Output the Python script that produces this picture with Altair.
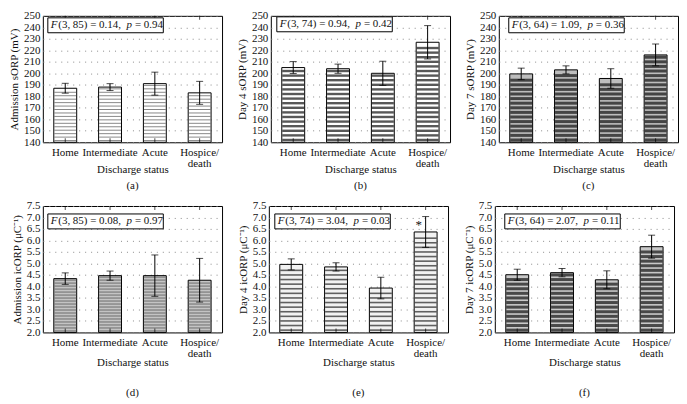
import altair as alt
import pandas as pd

# ---------------- data ----------------
categories = ["Home", "Intermediate", "Acute", "Hospice/death"]

adm_sorp_mean = [187, 188, 191, 183]
adm_sorp_err = [4.3, 3.0, 10.0, 10.0]
d4_sorp_mean = [205, 204, 200, 227]
d4_sorp_err = [5.2, 4.0, 10.5, 14.5]
d7_sorp_mean = [199.5, 203, 195.5, 216]
d7_sorp_err = [5.0, 3.5, 8.5, 9.5]

adm_icorp_mean = [4.34, 4.47, 4.47, 4.27]
adm_icorp_err = [0.25, 0.20, 0.90, 0.95]
d4_icorp_mean = [4.96, 4.85, 3.93, 6.37]
d4_icorp_err = [0.24, 0.18, 0.47, 0.67]
d7_icorp_mean = [4.51, 4.60, 4.29, 5.73]
d7_icorp_err = [0.24, 0.18, 0.39, 0.50]

f_df1 = [3, 3, 3, 3, 3, 3]
f_df2 = [85, 74, 64, 85, 74, 64]
f_value = [0.14, 0.94, 1.09, 0.08, 3.04, 2.07]
p_value = [0.94, 0.42, 0.36, 0.97, 0.03, 0.11]
significance = [
    ["", "", "", ""],
    ["", "", "", ""],
    ["", "", "", ""],
    ["", "", "", ""],
    ["", "", "", "*"],
    ["", "", "", ""],
]

y_titles = [
    "Admission sORP (mV)",
    "Day 4 sORP (mV)",
    "Day 7 sORP (mV)",
    "Admission icORP (\u03bcC\u207b\u00b9)",
    "Day 4 icORP (\u03bcC\u207b\u00b9)",
    "Day 7 icORP (\u03bcC\u207b\u00b9)",
]
captions = ["(a)", "(b)", "(c)", "(d)", "(e)", "(f)"]
x_title = "Discharge status"

sorp_ticks = [140, 150, 160, 170, 180, 190, 200, 210, 220, 230, 240, 250]
icorp_ticks = [2.0, 2.5, 3.0, 3.5, 4.0, 4.5, 5.0, 5.5, 6.0, 6.5, 7.0, 7.5]

# ---------------- styles ----------------
FONT = "Liberation Serif"
W, H = 180, 127
BAR = 23

styles = [
    dict(bg="#ffffff", line="#555555", thick=1.0, step=3.0),
    dict(bg="#ffffff", line="#111111", thick=2.4, step=4.0),
    dict(bg="#bdbdbd", line="#111111", thick=3.0, step=4.0),
    dict(bg="#c4c4c4", line="#707070", thick=1.5, step=0.13),
    dict(bg="#f2f2f2", line="#222222", thick=1.6, step=0.2),
    dict(bg="#c8c8c8", line="#111111", thick=3.0, step=0.2),
]
box_x = [5, 6, 10, 5, 6, 10]
box_y = [2, 1, 2, 8, 8, 8]
title_y = [21, 21, 21, 24, 24, 24]
caption_offset = [6, 6, 6, 20, 20, 20]


def panel(i, means, errs, ticks, fmt):
    st = styles[i]
    lo_d, hi_d = ticks[0], ticks[-1]
    df = pd.DataFrame({"cat": categories, "mean": means, "err": errs, "sig": significance[i]})
    base = alt.Chart(df)

    xscale = alt.Scale(type="band", paddingInner=0.5, paddingOuter=0.25)
    xaxis = alt.Axis(
        title=x_title,
        labelAngle=0,
        labelOverlap=False,
        ticks=False,
        domain=False,
        labelPadding=4,
        labelLineHeight=11,
        labelExpr="datum.label == 'Hospice/death' ? ['Hospice/', 'death'] : datum.label",
        titleY=title_y[i],
        titleBaseline="top",
    )
    yscale = alt.Scale(domain=[lo_d, hi_d], nice=False, zero=False)
    yaxis = alt.Axis(
        title=y_titles[i],
        values=ticks,
        tickCount=len(ticks),
        format=fmt,
        ticks=False,
        domain=False,
        grid=True,
        gridDash=[1, 5],
        gridColor="#8a8a8a",
        gridWidth=1,
        labelPadding=3,
        labelOverlap=False,
        labelFlush=False,
        titlePadding=4,
    )

    def xs():
        return alt.X("cat:N", sort=categories, scale=xscale, axis=xaxis)

    def ys(field):
        return alt.Y(field, scale=yscale, axis=yaxis)

    bars = base.mark_bar(size=BAR, fill=st["bg"], stroke="black", strokeWidth=1).encode(
        x=xs(), y=ys("mean:Q"), y2=alt.datum(lo_d)
    )
    step = st["step"]
    stripes = (
        base.transform_calculate(
            lv=f"sequence({lo_d + step / 2}, datum.mean - {step * 0.45}, {step})"
        )
        .transform_flatten(["lv"])
        .mark_tick(orient="horizontal", size=BAR - 1, thickness=st["thick"], color=st["line"])
        .encode(x=xs(), y=ys("lv:Q"))
    )
    eb = base.transform_calculate(lo="datum.mean - datum.err", hi="datum.mean + datum.err")
    rule = eb.mark_rule(color="black", strokeWidth=1).encode(x=xs(), y=ys("lo:Q"), y2="hi:Q")
    cap_lo = eb.mark_tick(orient="horizontal", size=7, thickness=1, color="black").encode(
        x=xs(), y=ys("lo:Q")
    )
    cap_hi = eb.mark_tick(orient="horizontal", size=7, thickness=1, color="black").encode(
        x=xs(), y=ys("hi:Q")
    )
    star = eb.mark_text(font=FONT, fontSize=13, dx=-7, dy=8, fill="#111111").encode(
        x=xs(), y=ys("hi:Q"), text="sig:N", color=alt.value("#111111")
    )
    top_ticks = base.mark_tick(orient="vertical", size=4, thickness=1, color="black").encode(
        x=xs(), y=alt.value(2)
    )
    bot_ticks = base.mark_tick(orient="vertical", size=4, thickness=1, color="black").encode(
        x=xs(), y=alt.value(H - 2)
    )

    bx, by = box_x[i], box_y[i]
    ann = alt.Chart(pd.DataFrame({"k": [0]}))
    box = ann.mark_rect(fill="white", stroke="black", strokeWidth=1).encode(
        x=alt.value(bx), x2=alt.value(bx + 116), y=alt.value(by), y2=alt.value(by + 15)
    )
    ty = by + 7.5
    part2 = f"({f_df1[i]}, {f_df2[i]}) = {f_value[i]:.2f},"
    part4 = f"= {p_value[i]:.2f}"
    tkw = dict(font=FONT, fontSize=11, align="left", baseline="middle", color="#111")
    t1 = ann.mark_text(text="F", fontStyle="italic", **tkw).encode(x=alt.value(bx + 3), y=alt.value(ty))
    t2 = ann.mark_text(text=part2, **tkw).encode(x=alt.value(bx + 10.5), y=alt.value(ty))
    t3 = ann.mark_text(text="p", fontStyle="italic", **tkw).encode(x=alt.value(bx + 79), y=alt.value(ty))
    t4 = ann.mark_text(text=part4, **tkw).encode(x=alt.value(bx + 87.5), y=alt.value(ty))

    return alt.layer(
        bars, stripes, rule, cap_lo, cap_hi, star, top_ticks, bot_ticks, box, t1, t2, t3, t4
    ).properties(
        width=W,
        height=H,
        title=alt.TitleParams(captions[i], orient="bottom", offset=caption_offset[i]),
    )


pa = panel(0, adm_sorp_mean, adm_sorp_err, sorp_ticks, "d")
pb = panel(1, d4_sorp_mean, d4_sorp_err, sorp_ticks, "d")
pc = panel(2, d7_sorp_mean, d7_sorp_err, sorp_ticks, "d")
pd_ = panel(3, adm_icorp_mean, adm_icorp_err, icorp_ticks, ".1f")
pe = panel(4, d4_icorp_mean, d4_icorp_err, icorp_ticks, ".1f")
pf = panel(5, d7_icorp_mean, d7_icorp_err, icorp_ticks, ".1f")

chart = (
    alt.vconcat(
        alt.hconcat(pa, pb, pc, spacing=13),
        alt.hconcat(pd_, pe, pf, spacing=13),
        spacing=7,
    )
    .properties(padding={"left": 0, "top": 0, "right": 0, "bottom": 0}, background="white")
    .configure_view(stroke="black", strokeWidth=1)
    .configure_axis(
        labelFont=FONT,
        titleFont=FONT,
        labelFontSize=11,
        titleFontSize=11,
        titleFontWeight="normal",
        labelColor="#111",
        titleColor="#111",
    )
    .configure_title(font=FONT, fontSize=11, fontWeight="normal", color="#111")
)

chart.save("out.html", embed_options={"renderer": "svg", "actions": False})
